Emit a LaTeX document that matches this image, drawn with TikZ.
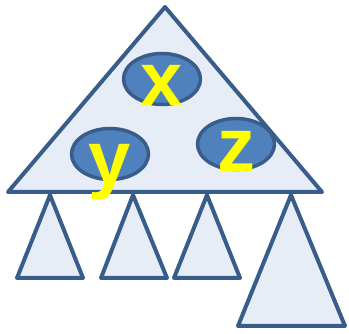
\documentclass[tikz,border=0pt]{standalone}
\usepackage{fontspec}
\setmainfont{Liberation Sans}
\usetikzlibrary{shapes.geometric}
\definecolor{edgeblue}{RGB}{56,93,138}
\definecolor{paleblue}{RGB}{231,237,246}
\definecolor{keyblue}{RGB}{79,129,189}
\definecolor{penyellow}{RGB}{255,255,0}

\begin{document}
\begin{tikzpicture}[x=1pt, y=-1pt, line join=round,
    subtree/.style={line width=4pt, draw=edgeblue, fill=paleblue},
    keyoval/.style={ellipse, draw=edgeblue, fill=keyblue, line width=3.5pt,
      minimum width=77pt, minimum height=51pt, inner sep=0pt},
    keyletter/.style={anchor=base, inner sep=0pt, text=penyellow,
      font=\fontsize{76}{76}\selectfont\bfseries}]
    \useasboundingbox (0,0) rectangle (349,334);

    % ── Child subtrees ────────────────────────────────────────────────
    \foreach \ax/\bl/\br/\by in {50/17/83/278, 133/101/167/278,
                                 207/174/240/278, 291/238/345/326}{
      \draw[subtree] (\ax,195) -- (\br,\by) -- (\bl,\by) -- cycle;
    }

    % ── Root node ─────────────────────────────────────────────────────
    \draw[subtree] (165,7) -- (322,192) -- (8,192) -- cycle;

    % Keys
    \node[keyoval] (ovalx) at (162,79) {};
    \node[keyoval] (ovaly) at (110,154) {};
    \node[keyoval] (ovalz) at (236,144) {};
    \node[keyletter] (letx) at (162,106) {x};
    \node[keyletter] (lety) at (110,185) {y};
    \node[keyletter] (letz) at (236,172) {z};
  \end{tikzpicture}
\end{document}
